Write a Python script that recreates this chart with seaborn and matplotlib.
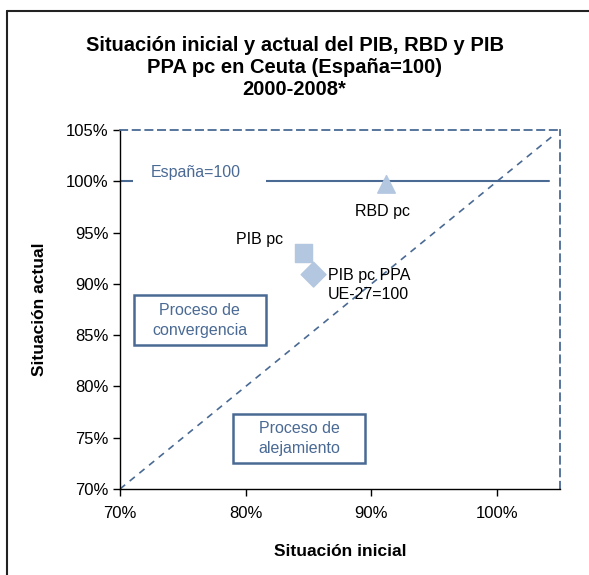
import matplotlib
matplotlib.use("Agg")
import matplotlib.pyplot as plt
import matplotlib.lines as mlines
import seaborn as sns
import pandas as pd
from matplotlib.ticker import PercentFormatter

# Datos (España=100)
indicadores = ["PIB pc", "PIB pc PPA UE-27=100", "RBD pc"]
situacion_inicial = [84.6, 85.4, 91.2]
situacion_actual = [93.0, 90.9, 99.7]
marcadores = {"PIB pc": "s", "PIB pc PPA UE-27=100": "D", "RBD pc": "^"}

df = pd.DataFrame({"indicador": indicadores,
                   "inicial": situacion_inicial,
                   "actual": situacion_actual})

sns.set_style("white")
plt.rcParams["font.family"] = ["Liberation Sans", "DejaVu Sans"]
plt.rcParams["text.color"] = "black"
plt.rcParams["axes.labelcolor"] = "black"
plt.rcParams["xtick.color"] = "black"
plt.rcParams["ytick.color"] = "black"

AZUL = "#4A6A94"
MARCA = "#B4C7E0"

fig = plt.figure(figsize=(5.89, 5.75), dpi=100)
ax = fig.add_axes([0.2037, 0.1496, 0.7471, 0.6243])

sns.scatterplot(data=df, x="inicial", y="actual", style="indicador",
                markers=marcadores, color=MARCA, s=160, edgecolor=MARCA,
                legend=False, ax=ax, zorder=5)

# referencia España=100 y diagonal
ax.axhline(100, xmax=0.975, color=AZUL, lw=1.5, zorder=2)
ax.plot([70, 104.5], [70, 104.5], color=AZUL, lw=1.2, ls=(0, (4, 3.5)), zorder=2)

ax.set_xlim(70, 105)
ax.set_ylim(70, 105)
ax.set_xticks([70, 80, 90, 100])
ax.set_yticks([70, 75, 80, 85, 90, 95, 100, 105])
ax.xaxis.set_major_formatter(PercentFormatter(decimals=0))
ax.yaxis.set_major_formatter(PercentFormatter(decimals=0))
ax.tick_params(axis="both", direction="out", length=5, width=1, color="black",
               labelsize=12, pad=3, bottom=True, left=True)
ax.tick_params(axis="x", pad=7)

for s in ["left", "bottom"]:
    ax.spines[s].set_color("black")
    ax.spines[s].set_linewidth(1)
for s in ["top", "right"]:
    ax.spines[s].set_color(AZUL)
    ax.spines[s].set_linewidth(1.3)
    ax.spines[s].set_linestyle((0, (4, 3)))

ax.set_xlabel("Situación inicial", fontsize=12.5, fontweight="bold", labelpad=17)
ax.set_ylabel("Situación actual", fontsize=12.5, fontweight="bold", labelpad=14)

# etiquetas
ax.text(76.0, 100.9, "España=100", color=AZUL, fontsize=11.5, ha="center", va="center",
        bbox=dict(boxstyle="square,pad=0.1", fc="white", ec="none"), zorder=3)
ax.add_patch(plt.Rectangle((71.05, 99.6), 10.6, 0.8, fc="white", ec="none", zorder=2.5))
ax.text(83.0, 94.3, "PIB pc", fontsize=11.5, ha="right", va="center")
ax.text(90.9, 97.1, "RBD pc", fontsize=11.5, ha="center", va="center")
ax.text(86.55, 89.9, "PIB pc PPA\nUE-27=100", fontsize=11.5, ha="left", va="center",
        linespacing=1.3)

# cajas de proceso
ax.add_patch(plt.Rectangle((71.1, 84.0), 10.5, 4.9, fc="white", ec=AZUL, lw=1.8, zorder=4))
ax.add_patch(plt.Rectangle((79.0, 72.5), 10.5, 4.8, fc="white", ec=AZUL, lw=1.8, zorder=4))
ax.text(76.35, 86.45, "Proceso de\nconvergencia", color=AZUL, fontsize=11.5,
        ha="center", va="center", linespacing=1.4, zorder=5)
ax.text(84.25, 74.9, "Proceso de\nalejamiento", color=AZUL, fontsize=11.5,
        ha="center", va="center", linespacing=1.4, zorder=5)

fig.text(0.5, 0.882, "Situación inicial y actual del PIB, RBD y PIB\nPPA pc en Ceuta (España=100)\n2000-2008*",
         ha="center", va="center", fontsize=14.5, fontweight="bold", linespacing=1.2)

# marco exterior
fig.add_artist(mlines.Line2D([0.0127, 0.0127], [0, 0.981], color="#222222", lw=1.5,
                             transform=fig.transFigure))
fig.add_artist(mlines.Line2D([0.0127, 1.0], [0.981, 0.981], color="#222222", lw=1.5,
                             transform=fig.transFigure))

fig.savefig("out.png", dpi=100)
